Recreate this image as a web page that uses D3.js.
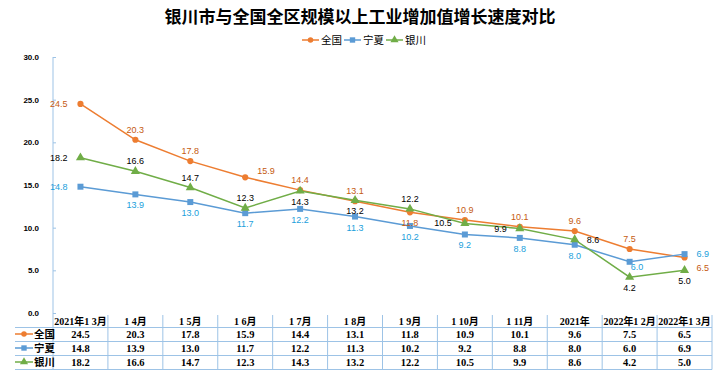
<!DOCTYPE html>
<html>
<head>
<meta charset="utf-8">
<script src="https://d3js.org/d3.v7.min.js"></script>
<style>
  body { margin: 0; background: #fff; }
  svg { display: block; font-family: "Liberation Sans", Arial, sans-serif; }
  .tbl { font-family: "Liberation Serif", "Noto Sans CJK SC", serif; font-weight: bold; font-size: 10.5px; fill: #000; }
  .hdr { font-family: "Liberation Serif", "Noto Sans CJK SC", serif; font-weight: bold; font-size: 10px; fill: #000; }
</style>
</head>
<body>
<script>
// data
var categories = ["2021年1 3月", "1 4月", "1 5月", "1 6月", "1 7月", "1 8月",
                  "1 9月", "1 10月", "1 11月", "2021年", "2022年1 2月", "2022年1 3月"];
var quanguo = [24.5, 20.3, 17.8, 15.9, 14.4, 13.1, 11.8, 10.9, 10.1, 9.6, 7.5, 6.5];
var ningxia = [14.8, 13.9, 13.0, 11.7, 12.2, 11.3, 10.2, 9.2, 8.8, 8.0, 6.0, 6.9];
var yinchuan = [18.2, 16.6, 14.7, 12.3, 14.3, 13.2, 12.2, 10.5, 9.9, 8.6, 4.2, 5.0];
var yTicks = [0, 5, 10, 15, 20, 25, 30];

// where each data label sits relative to its point (t top, b bottom, l left, r right)
var quanguoPos = ["l", "t", "t", "tr", "t", "t", "b", "t", "t", "t", "t", "rb"];
var ningxiaPos = ["l", "b", "b", "b", "b", "b", "b", "b", "b", "b", "br", "r"];
var yinchuanPos = ["l", "t", "t", "t", "b", "b", "t", "l", "l", "r", "b", "b"];

var series = [
  { name: "全国", values: quanguo, pos: quanguoPos, color: "#ED7D31", label: "#C55A11", shape: d3.symbolCircle, size: 30 },
  { name: "宁夏", values: ningxia, pos: ningxiaPos, color: "#5B9BD5", label: "#1AA0DC", shape: d3.symbolSquare, size: 36 },
  { name: "银川", values: yinchuan, pos: yinchuanPos, color: "#70AD47", label: "#000", shape: d3.symbolTriangle, size: 36 }
];

var W = 718, H = 385;
var pLeft = 53, pRight = 712, pTop = 57, pBottom = 313;
var gridColor = "#9DC3E6";

var svg = d3.select("body").append("svg")
  .attr("width", W).attr("height", H);

var x = d3.scaleBand().domain(categories).range([pLeft, pRight]);
var y = d3.scaleLinear().domain([0, 30]).range([pBottom, pTop]);
var cx = function(i) { return x(categories[i]) + x.bandwidth() / 2; };

// title
svg.append("text")
  .attr("x", 360).attr("y", 23)
  .attr("text-anchor", "middle")
  .style("font-family", "'Noto Sans CJK SC', sans-serif")
  .style("font-weight", "bold")
  .style("font-size", "17px")
  .text("银川市与全国全区规模以上工业增加值增长速度对比");

// legend
var legend = svg.append("g").attr("transform", "translate(302,40)");
series.forEach(function(s, i) {
  var g = legend.append("g").attr("transform", "translate(" + (i * 42) + ",0)");
  g.append("line").attr("x1", 0).attr("x2", 17).attr("y1", 0).attr("y2", 0)
    .attr("stroke", s.color).attr("stroke-width", 1.5);
  g.append("path").attr("d", d3.symbol().type(s.shape).size(s.size * 0.8))
    .attr("transform", "translate(8.5,0)").attr("fill", s.color);
  g.append("text").attr("x", 19).attr("y", 4)
    .style("font-family", "'Noto Sans CJK SC', sans-serif")
    .style("font-size", "10.5px")
    .text(s.name);
});

// y axis
var yAxis = svg.append("g")
  .attr("transform", "translate(" + pLeft + ",0)")
  .call(d3.axisLeft(y).tickValues(yTicks).tickSize(-3).tickPadding(14).tickFormat(d3.format(".1f")));
yAxis.select(".domain").attr("stroke", gridColor).attr("d", "M0," + pTop + "V" + 369);
yAxis.selectAll(".tick line").attr("stroke", gridColor);
yAxis.selectAll(".tick text")
  .style("font-size", "8px").style("font-weight", "bold")
  .style("font-family", "'Liberation Sans', Arial, sans-serif")
  .attr("fill", "#000");

// lines, markers and labels
var line = d3.line()
  .x(function(d, i) { return cx(i); })
  .y(function(d) { return y(d); });

series.forEach(function(s) {
  svg.append("path").datum(s.values)
    .attr("d", line).attr("fill", "none")
    .attr("stroke", s.color).attr("stroke-width", 1.5);
});

series.forEach(function(s) {
  svg.selectAll(null).data(s.values).enter().append("path")
    .attr("d", d3.symbol().type(s.shape).size(s.size))
    .attr("transform", function(d, i) { return "translate(" + cx(i) + "," + y(d) + ")"; })
    .attr("fill", s.color);
});

series.forEach(function(s) {
  svg.selectAll(null).data(s.values).enter().append("text")
    .attr("x", function(d, i) {
      var p = s.pos[i];
      if (p === "l") return cx(i) - 13;
      if (p === "br") return cx(i) + 1;
      if (p.indexOf("r") >= 0) return cx(i) + 12;
      return cx(i);
    })
    .attr("y", function(d, i) {
      var p = s.pos[i], yy = y(d);
      if (p === "t") return yy - 7;
      if (p === "tr") return yy - 3;
      if (p === "b") return yy + 14;
      if (p === "br") return yy + 8;
      if (p === "rb") return yy + 13;
      return yy + 3;
    })
    .attr("text-anchor", function(d, i) {
      var p = s.pos[i];
      if (p === "l") return "end";
      if (p === "br") return "start";
      if (p.indexOf("r") >= 0) return "start";
      return "middle";
    })
    .style("font-size", "9px")
    .attr("fill", s.label)
    .text(function(d) { return d.toFixed(1); });
});

// data table
var tTop = 315, hRow = 12.5, row = 14;
var rowY = [tTop + hRow, tTop + hRow + row, tTop + hRow + row * 2, tTop + hRow + row * 3];
var grid = svg.append("g").attr("stroke", gridColor).attr("stroke-width", 1);
categories.forEach(function(c, i) {
  grid.append("line")
    .attr("x1", x(c) + x.bandwidth()).attr("x2", x(c) + x.bandwidth())
    .attr("y1", tTop).attr("y2", rowY[3]);
});
rowY.forEach(function(yy) {
  grid.append("line").attr("x1", 15).attr("x2", pRight).attr("y1", yy).attr("y2", yy);
});

categories.forEach(function(c, i) {
  svg.append("text").attr("class", "hdr")
    .attr("x", cx(i)).attr("y", tTop + 9.5)
    .attr("text-anchor", "middle")
    .text(c);
});

series.forEach(function(s, r) {
  var yy = rowY[r] + 10.5;
  svg.append("line").attr("x1", 15).attr("x2", 33)
    .attr("y1", yy - 4).attr("y2", yy - 4)
    .attr("stroke", s.color).attr("stroke-width", 1.5);
  svg.append("path").attr("d", d3.symbol().type(s.shape).size(s.size * 0.8))
    .attr("transform", "translate(24," + (yy - 4) + ")").attr("fill", s.color);
  svg.append("text").attr("class", "tbl")
    .attr("x", 34).attr("y", yy)
    .style("font-family", "'Noto Sans CJK SC', sans-serif")
    .text(s.name);
  s.values.forEach(function(v, i) {
    svg.append("text").attr("class", "tbl")
      .attr("x", cx(i)).attr("y", yy)
      .attr("text-anchor", "middle")
      .text(v.toFixed(1));
  });
});
</script>
</body>
</html>
